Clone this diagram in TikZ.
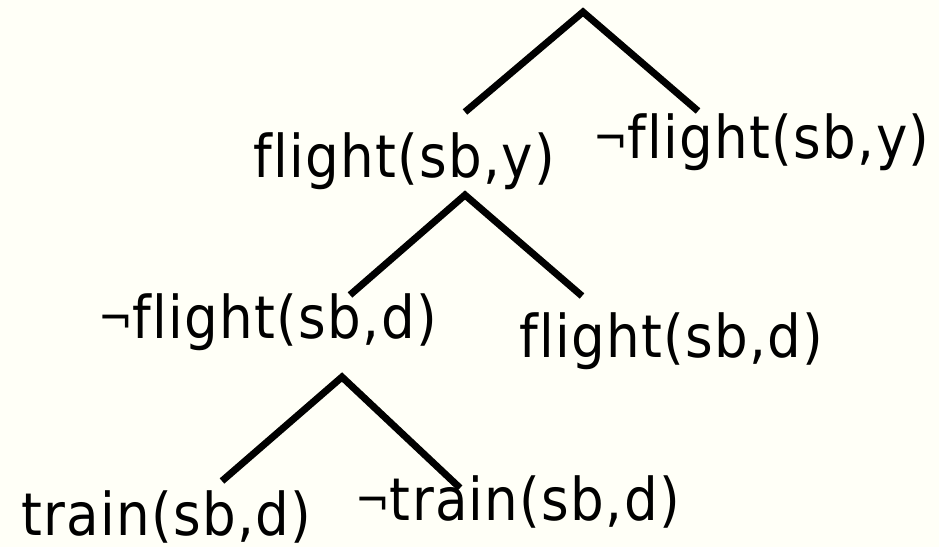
\documentclass[tikz,border=0pt]{standalone}
\usepackage{fontspec}
\setmainfont[LetterSpace=2.2,Ligatures=NoCommon]{DejaVu Sans Condensed}
\definecolor{bgc}{RGB}{255,255,247}
\newcommand{\negsign}{{\fontsize{46}{50}\selectfont\raisebox{4pt}{¬}}}
\begin{document}
\begin{tikzpicture}[x=1pt,y=-1pt,
  lbl/.style={anchor=base west,inner sep=0pt,font=\fontsize{59}{64}\selectfont},
  branch/.style={line width=7pt,line join=miter,line cap=butt}]
\fill[bgc] (0,0) rectangle (939,547);
\useasboundingbox (0,0) rectangle (939,547);
% apexes and branch ends
\coordinate (r0) at (583,12);
\coordinate (r0l) at (465,112);
\coordinate (r0r) at (698,111);
\coordinate (r1) at (465,195);
\coordinate (r1l) at (350,295);
\coordinate (r1r) at (582,296);
\coordinate (r2) at (342,377);
\coordinate (r2l) at (222,481);
\coordinate (r2r) at (460,488);
% labels
\node[lbl] (fy) at (253,177) {flight(sb,y)};
\node[lbl] (nfy) at (593,158) {\negsign flight(sb,y)};
\node[lbl] (nfd) at (98,338) {\negsign flight(sb,d)};
\node[lbl] (fd) at (519,357) {flight(sb,d)};
\node[lbl] (td) at (21,535) {train(sb,d)};
\node[lbl] (ntd) at (355,520) {\negsign train(sb,d)};
% branches
\draw[branch] (r0l) -- (r0) -- (r0r);
\draw[branch] (r1l) -- (r1) -- (r1r);
\draw[branch] (r2l) -- (r2) -- (r2r);
\end{tikzpicture}
\end{document}
